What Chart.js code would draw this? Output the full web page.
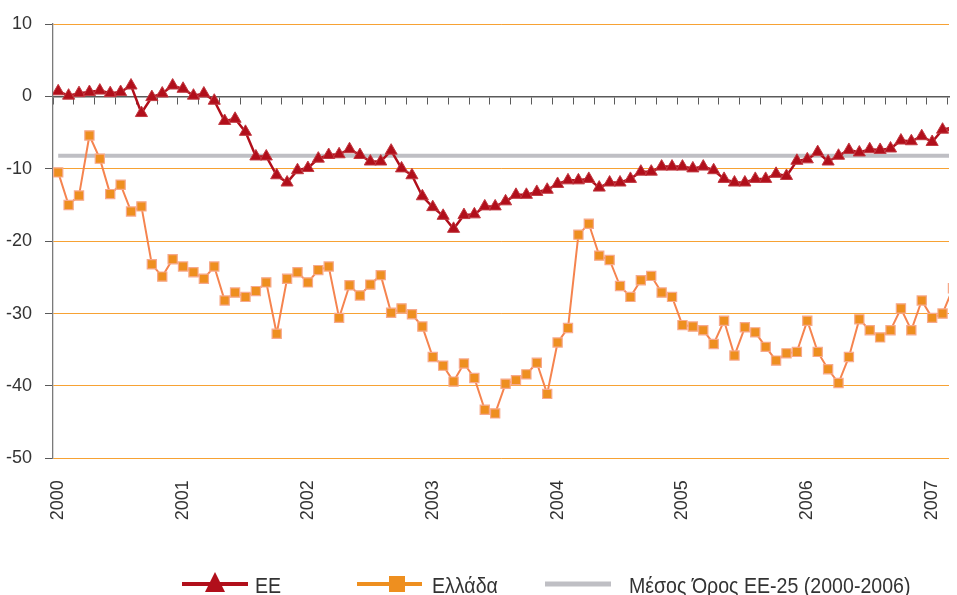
<!DOCTYPE html>
<html lang="el">
<head>
<meta charset="UTF-8">
<title>ΕΕ - Ελλάδα</title>
<script src="https://cdn.jsdelivr.net/npm/chart.js"></script>
<style>
  body { margin: 0; background: #fff; }
</style>
</head>
<body>
<canvas id="chart" width="957" height="595"></canvas>
<script>
// year labels, one every 12 months (month index 0 = Jan 2000)
const years = ["2000", "2001", "2002", "2003", "2004", "2005", "2006", "2007"];

// monthly values, Jan 2000 .. Mar 2007
const euValues = [
  0.7, 0.1, 0.45, 0.6, 0.8, 0.45, 0.6, 1.5, -2.3, -0.1, 0.4, 1.5,
  1.05, 0.1, 0.4, -0.6, -3.4, -3.1, -4.9, -8.3, -8.3, -10.9, -11.9, -10.2,
  -9.9, -8.6, -8.1, -8.0, -7.3, -8.1, -9.0, -9.0, -7.5, -9.95, -10.9, -13.8,
  -15.3, -16.5, -18.3, -16.4, -16.3, -15.2, -15.2, -14.5, -13.6, -13.6, -13.2, -12.9,
  -12.1, -11.6, -11.6, -11.4, -12.6, -11.9, -11.9, -11.4, -10.4, -10.4, -9.7, -9.7,
  -9.7, -9.95, -9.7, -10.2, -11.4, -11.9, -11.9, -11.4, -11.4, -10.7, -11.0, -8.9,
  -8.7, -7.7, -9.0, -8.2, -7.4, -7.75, -7.3, -7.4, -7.2, -6.1, -6.2, -5.5,
  -6.3, -4.6, -4.3
];
const greeceValues = [
  -10.5, -15.0, -13.7, -5.4, -8.6, -13.5, -12.2, -15.9, -15.2, -23.2, -24.9, -22.5,
  -23.5, -24.3, -25.2, -23.5, -28.2, -27.1, -27.7, -26.9, -25.7, -32.8, -25.2, -24.3,
  -25.7, -24.0, -23.5, -30.6, -26.1, -27.5, -26.0, -24.7, -29.9, -29.3, -30.1, -31.8,
  -36.0, -37.2, -39.4, -36.9, -38.9, -43.3, -43.8, -39.7, -39.2, -38.4, -36.8, -41.1,
  -34.0, -32.0, -19.1, -17.6, -22.0, -22.6, -26.2, -27.7, -25.4, -24.8, -27.1, -27.7,
  -31.6, -31.8, -32.3, -34.2, -31.0, -35.8, -31.9, -32.6, -34.6, -36.5, -35.5, -35.3,
  -31.0, -35.3, -37.7, -39.6, -36.0, -30.8, -32.3, -33.3, -32.3, -29.3, -32.3, -28.2,
  -30.6, -30.0, -26.5
];
// EU-25 mean 2000-2006
const euAverage = -8.2;

const seriesNames = ["ΕΕ", "Ελλάδα", "Μέσος Όρος ΕΕ-25 (2000-2006)"];

const RED = "#b10f1b";
const ORANGE_LINE = "#f5844f";
const ORANGE_FILL = "#ee8f1f";
const GRID = "#f7a234";
const GREY = "#bfbfc4";
const AXIS = "#5a5a5a";
const TEXT = "#333333";
const FONT = "'Liberation Sans', Arial, sans-serif";

const xMin = -0.5;
const xMax = 85.62;

const toPoints = (arr) => arr.map((v, i) => ({ x: i, y: v }));
const averagePoints = greeceValues.map((_, i) => ({ x: i, y: euAverage }));

// narrow text: the original uses a condensed face, squeeze Liberation Sans
function narrowText(ctx, text, x, y) {
  ctx.save();
  ctx.translate(x, y);
  ctx.scale(0.89, 1);
  ctx.fillText(text, 0, 0);
  ctx.restore();
}

const legendPlugin = {
  id: "bottomLegend",
  afterDraw(chart) {
    const ctx = chart.ctx;
    const y = 584;
    ctx.save();
    ctx.font = "22px " + FONT;
    ctx.fillStyle = TEXT;
    ctx.textBaseline = "alphabetic";

    // EE
    ctx.strokeStyle = RED;
    ctx.lineWidth = 4;
    ctx.beginPath(); ctx.moveTo(182, y); ctx.lineTo(248, y); ctx.stroke();
    ctx.fillStyle = RED;
    ctx.beginPath();
    ctx.moveTo(215, y - 12); ctx.lineTo(225, y + 8); ctx.lineTo(205, y + 8);
    ctx.closePath(); ctx.fill();
    ctx.fillStyle = TEXT;
    narrowText(ctx, seriesNames[0], 255, 593);

    // Ελλάδα
    ctx.strokeStyle = ORANGE_FILL;
    ctx.beginPath(); ctx.moveTo(357, y); ctx.lineTo(422, y); ctx.stroke();
    ctx.fillStyle = ORANGE_FILL;
    ctx.fillRect(389, y - 8, 16, 16);
    ctx.fillStyle = TEXT;
    narrowText(ctx, seriesNames[1], 432, 593);

    // average
    ctx.strokeStyle = GREY;
    ctx.lineWidth = 5;
    ctx.beginPath(); ctx.moveTo(545, y); ctx.lineTo(611, y); ctx.stroke();
    narrowText(ctx, seriesNames[2], 629, 593);
    ctx.restore();
  }
};

new Chart(document.getElementById("chart"), {
  type: "line",
  data: {
    datasets: [
      {
        label: seriesNames[0],
        data: toPoints(euValues),
        borderColor: RED,
        backgroundColor: RED,
        borderWidth: 2.5,
        pointStyle: "triangle",
        pointRadius: 7,
        pointBorderColor: "#c23a42",
        pointBorderWidth: 1,
        pointBackgroundColor: RED,
        order: 1
      },
      {
        label: seriesNames[1],
        data: toPoints(greeceValues),
        borderColor: ORANGE_LINE,
        backgroundColor: ORANGE_FILL,
        borderWidth: 2,
        pointStyle: "rect",
        pointRadius: 6.5,
        pointBorderColor: "#f7a98c",
        pointBorderWidth: 1.2,
        pointBackgroundColor: ORANGE_FILL,
        order: 2
      },
      {
        label: seriesNames[2],
        data: averagePoints,
        borderColor: GREY,
        borderWidth: 4,
        pointRadius: 0,
        order: 3
      }
    ]
  },
  options: {
    responsive: false,
    animation: false,
    layout: { padding: { top: 24, right: 0, bottom: 0, left: 0 } },
    plugins: {
      legend: { display: false },
      tooltip: { enabled: false }
    },
    scales: {
      x: {
        type: "linear",
        position: "bottom",
        min: xMin,
        max: xMax,
        grid: { display: false, drawTicks: false },
        border: { display: false },
        afterBuildTicks: (scale) => {
          scale.ticks = years.map((_, i) => ({ value: i * 12 }));
        },
        afterFit: (scale) => {
          scale.height = 136.7;
          scale.paddingLeft = 0;
          scale.paddingRight = 0;
        },
        ticks: {
          autoSkip: false,
          minRotation: 90,
          maxRotation: 90,
          padding: 22,
          color: TEXT,
          font: { family: FONT, size: 18 },
          callback: (value) => years[Math.round(value / 12)]
        }
      },
      x0: {
        type: "linear",
        position: { y: 0 },
        min: xMin,
        max: xMax,
        afterBuildTicks: (scale) => {
          const t = [];
          for (let v = xMin; v <= xMax; v += 2) t.push({ value: v });
          scale.ticks = t;
        },
        afterFit: (scale) => {
          scale.paddingLeft = 0;
          scale.paddingRight = 0;
        },
        grid: {
          display: true,
          drawOnChartArea: false,
          drawTicks: true,
          tickLength: 7,
          color: AXIS,
          lineWidth: 1
        },
        border: { display: true, color: AXIS, width: 1.5 },
        ticks: { display: false }
      },
      y: {
        min: -50,
        max: 10,
        afterFit: (scale) => { scale.width = 53; },
        ticks: {
          stepSize: 10,
          padding: 13,
          color: TEXT,
          font: { family: FONT, size: 18 }
        },
        grid: {
          color: (c) => (c.tick && c.tick.value === 0 ? "rgba(0,0,0,0)" : GRID),
          tickColor: AXIS,
          tickLength: 8,
          lineWidth: 1
        },
        border: { display: true, color: "#7a7a7a", width: 1.3 }
      }
    }
  },
  plugins: [legendPlugin]
});
</script>
</body>
</html>
